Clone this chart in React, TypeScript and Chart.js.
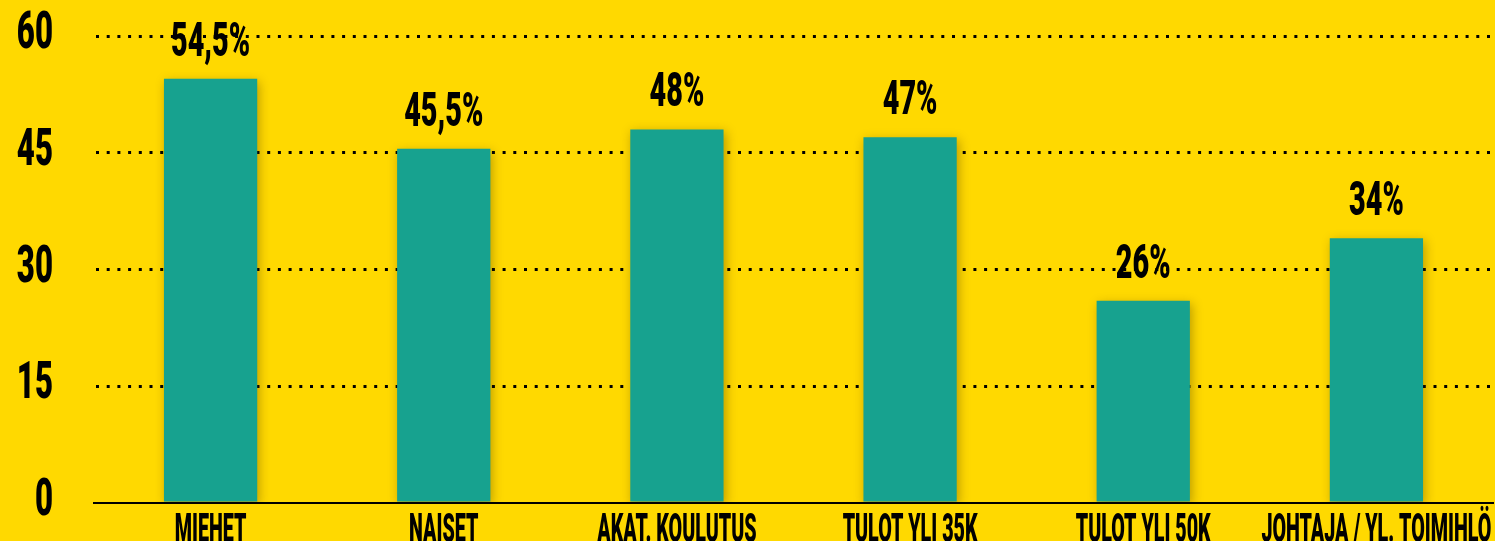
import React, { useEffect, useRef } from "react";
import { Chart, registerables } from "chart.js";

Chart.register(...registerables);

const categories = ["MIEHET", "NAISET", "AKAT. KOULUTUS", "TULOT YLI 35K", "TULOT YLI 50K", "JOHTAJA / YL. TOIMIHLÖ"];
const values = [54.5, 45.5, 48, 47, 26, 34];
const valueLabels = ["54,5%", "45,5%", "48%", "47%", "26%", "34%"];
const yTicks = [0, 15, 30, 45, 60];

const BG = "#FFD900";
const BAR = "#17A28F";
const FONT = "Roboto, 'DejaVu Sans', sans-serif";

function drawCondensed(ctx: CanvasRenderingContext2D, text: string, x: number, y: number, size: number, sx: number, align: CanvasTextAlign) {
  ctx.save();
  ctx.translate(x, y);
  ctx.scale(sx, 1);
  ctx.font = `900 ${size}px ${FONT}`;
  ctx.fillStyle = "#000";
  ctx.textAlign = align;
  ctx.textBaseline = "alphabetic";
  ctx.fillText(text, 0, 0);
  ctx.restore();
}

const shadowPlugin = {
  id: "barShadow",
  beforeDatasetsDraw(chart: any) {
    const ctx = chart.ctx;
    ctx.save();
    ctx.shadowColor = "rgba(60,40,0,0.35)";
    ctx.shadowBlur = 10;
    ctx.shadowOffsetX = 2;
    ctx.shadowOffsetY = 3;
  },
  afterDatasetsDraw(chart: any) {
    chart.ctx.restore();
  },
};

const textPlugin = {
  id: "texts",
  afterDraw(chart: any) {
    const ctx = chart.ctx;
    const yScale = chart.scales.y;
    yTicks.forEach((v) => {
      const y = yScale.getPixelForValue(v);
      drawCondensed(ctx, String(v), 53, y + 12, 52, 0.6, "right");
    });
    const meta = chart.getDatasetMeta(0);
    meta.data.forEach((bar: any, i: number) => {
      drawCondensed(ctx, valueLabels[i], bar.x, bar.y - 23, 48, 0.6, "center");
      drawCondensed(ctx, categories[i], bar.x, 542, 41, 0.48, "center");
    });
  },
};

export default function App() {
  const ref = useRef<HTMLCanvasElement | null>(null);
  useEffect(() => {
    if (!ref.current) return;
    const chart = new Chart(ref.current, {
      type: "bar",
      data: {
        labels: categories,
        datasets: [
          {
            data: values,
            backgroundColor: BAR,
            borderWidth: 0,
            barPercentage: 0.4,
            categoryPercentage: 1,
          },
        ],
      },
      options: {
        animation: false,
        responsive: false,
        maintainAspectRatio: false,
        devicePixelRatio: 1,
        layout: { padding: { left: 94, right: 2, top: 36, bottom: 38 } },
        plugins: { legend: { display: false }, tooltip: { enabled: false } },
        scales: {
          x: {
            grid: { display: false, drawTicks: false },
            ticks: { display: false },
            border: { display: true, color: "#000", width: 2, z: 1 },
          },
          y: {
            min: 0,
            max: 60,
            ticks: { display: false, stepSize: 15 },
            grid: {
              drawTicks: false,
              color: (c: any) => (c.tick && c.tick.value === 0 ? "rgba(0,0,0,0)" : "#000"),
              lineWidth: 3,
            },
            border: { display: false, dash: [3, 7.7], dashOffset: -2 },
          },
        },
      },
      plugins: [shadowPlugin, textPlugin],
    });
    return () => chart.destroy();
  }, []);
  return (
    <div style={{ position: "fixed", left: 0, top: 0, width: 1495, height: 541, background: BG }}>
      <canvas ref={ref} width={1495} height={541} style={{ display: "block", width: 1495, height: 541 }} />
    </div>
  );
}
